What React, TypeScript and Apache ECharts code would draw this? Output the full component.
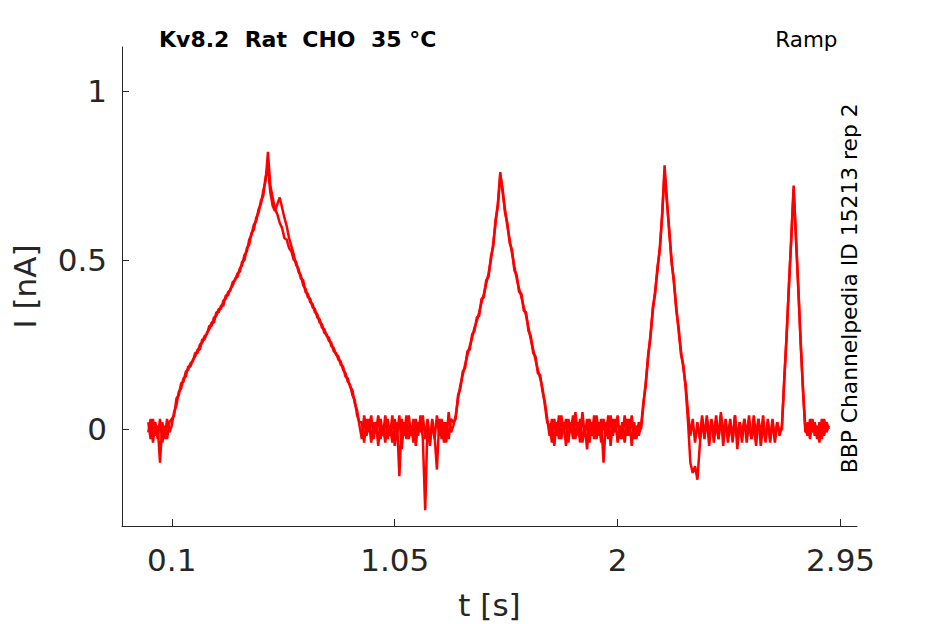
import React, { useEffect, useRef } from "react";
import * as echarts from "echarts";

// sampling interval of the recorded traces (s)
const DT = 0.01;
// start time (s) of each segment of a trace
const SEGMENT_STARTS = [0.0, 0.1, 0.91, 1.3, 1.71, 2.1, 2.31, 2.7, 2.81];

// ---- sweep A (I in nA) ----
const A_BASE_1 = [0.02, -0.03, 0.03, -0.02, 0.01, -0.1, 0.02, -0.03, 0.03, -0.01];
const A_RAMP_1 = [
  0.01, 0.05, 0.07, 0.11, 0.12, 0.15, 0.155, 0.185, 0.185, 0.205,
  0.215, 0.235, 0.235, 0.265, 0.265, 0.285, 0.295, 0.315, 0.315, 0.345,
  0.345, 0.365, 0.365, 0.395, 0.395, 0.415, 0.425, 0.445, 0.45, 0.475,
  0.485, 0.515, 0.525, 0.56, 0.575, 0.605, 0.615, 0.65, 0.665, 0.705,
  0.735, 0.82, 0.72, 0.685, 0.65, 0.635, 0.61, 0.595, 0.565, 0.56,
  0.535, 0.525, 0.5, 0.495, 0.465, 0.455, 0.425, 0.415, 0.39, 0.385,
  0.36, 0.355, 0.33, 0.325, 0.3, 0.295, 0.275, 0.27, 0.245, 0.24,
  0.22, 0.215, 0.19, 0.185, 0.155, 0.15, 0.125, 0.115, 0.075, 0.055,
  0.01,
];
const A_BASE_2 = [
  -0.03, 0.04, -0.02, 0.03, -0.04, 0.02, -0.01, 0.04, -0.03, 0.01,
  -0.04, 0.03, -0.02, 0.04, -0.05, 0.02, -0.14, 0.03, -0.02, 0.04,
  -0.03, 0.01, -0.04, 0.03, -0.02, 0.04, -0.03, -0.24, 0.02, -0.04,
  0.03, -0.02, -0.12, 0.03, -0.03, 0.02, -0.04, 0.05, -0.01,
];
const A_RAMP_2 = [
  0.01, 0.04, 0.09, 0.13, 0.16, 0.19, 0.22, 0.245, 0.27, 0.3,
  0.32, 0.345, 0.375, 0.4, 0.43, 0.46, 0.5, 0.55, 0.61, 0.67,
  0.76,
  0.7, 0.65, 0.6, 0.56, 0.52, 0.48, 0.445, 0.415, 0.39, 0.36,
  0.335, 0.3, 0.265, 0.235, 0.205, 0.175, 0.15, 0.12, 0.07, 0.02,
];
const A_BASE_3 = [
  0.01, -0.04, 0.03, -0.02, 0.04, -0.03, 0.02, -0.05, 0.03, -0.01,
  0.04, -0.03, 0.02, -0.04, 0.05, -0.02, 0.03, -0.04, 0.02, -0.03,
  0.04, -0.02, 0.03, -0.1, 0.02, -0.03, 0.04, -0.02, 0.03, -0.04,
  0.01, -0.03, 0.04, -0.02, 0.03, -0.05, 0.02, -0.03, 0.02,
];
const A_RAMP_3 = [
  0.0, 0.07, 0.14, 0.21, 0.28, 0.35, 0.41, 0.47, 0.54, 0.63,
  0.78, 0.68, 0.58, 0.5, 0.43, 0.36, 0.29, 0.23, 0.18, 0.13, 0.05,
];
const A_BASE_4 = [
  -0.02, 0.03, -0.04, 0.02, -0.03, 0.04, -0.02, 0.03, -0.05, 0.02,
  -0.01, 0.04, -0.03, 0.05, -0.02, 0.03, -0.04, 0.02, -0.03, 0.04,
  -0.06, 0.02, -0.02, 0.03, -0.04, 0.02, -0.03, 0.04, -0.02, 0.03,
  -0.05, 0.01, -0.03, 0.03, -0.04, 0.02, -0.03, 0.02, -0.02,
];
const A_RAMP_4 = [0.01, 0.14, 0.28, 0.42, 0.57, 0.71, 0.57, 0.41, 0.26, 0.11, -0.01];
const A_BASE_5 = [0.02, -0.03, 0.03, -0.02, 0.01, -0.04, 0.03, -0.02, 0.02, 0.0];

// ---- sweep B (I in nA) ----
const B_BASE_1 = [-0.01, 0.03, -0.04, 0.02, -0.03, 0.03, -0.04, 0.01, -0.03, 0.02];
const B_RAMP_1 = [
  0.03, 0.04, 0.09, 0.1, 0.135, 0.14, 0.17, 0.175, 0.195, 0.2,
  0.225, 0.225, 0.25, 0.255, 0.275, 0.28, 0.305, 0.305, 0.33, 0.335,
  0.355, 0.355, 0.38, 0.385, 0.405, 0.41, 0.435, 0.44, 0.46, 0.465,
  0.495, 0.5, 0.535, 0.545, 0.58, 0.59, 0.625, 0.64, 0.675, 0.69,
  0.745, 0.77, 0.7, 0.66, 0.645, 0.665, 0.685, 0.655, 0.625, 0.6,
  0.565, 0.54, 0.515, 0.485, 0.475, 0.445, 0.44, 0.405, 0.4, 0.375,
  0.37, 0.345, 0.34, 0.315, 0.31, 0.285, 0.28, 0.26, 0.255, 0.23,
  0.225, 0.205, 0.2, 0.175, 0.165, 0.14, 0.13, 0.1, 0.085, 0.04,
  0.02,
];
const B_BASE_2 = [
  0.02, -0.04, 0.03, -0.01, 0.04, -0.03, 0.02, -0.05, 0.03, -0.02,
  0.04, -0.03, 0.01, -0.04, 0.03, -0.02, 0.04, -0.06, 0.02, -0.03,
  0.04, -0.02, 0.03, -0.05, 0.02, -0.01, 0.04, -0.03, 0.03, -0.05,
  0.02, -0.03, 0.04, -0.02, 0.03, -0.04, 0.02, -0.03, 0.03,
];
const B_RAMP_2 = [
  0.02, 0.03, 0.1, 0.12, 0.17, 0.18, 0.23, 0.235, 0.28, 0.29,
  0.33, 0.335, 0.385, 0.39, 0.44, 0.45, 0.51, 0.54, 0.62, 0.66,
  0.75,
  0.71, 0.64, 0.61, 0.55, 0.53, 0.47, 0.455, 0.405, 0.4, 0.35,
  0.345, 0.29, 0.275, 0.225, 0.215, 0.165, 0.16, 0.11, 0.08, 0.03,
];
const B_BASE_3 = [
  -0.02, 0.03, -0.05, 0.02, -0.03, 0.04, -0.01, 0.03, -0.04, 0.02,
  -0.03, 0.05, -0.02, 0.03, -0.04, 0.01, -0.06, 0.03, -0.02, 0.04,
  -0.03, 0.02, -0.04, 0.03, -0.02, 0.04, -0.05, 0.03, -0.01, 0.04,
  -0.03, 0.02, -0.04, 0.03, -0.02, 0.04, -0.03, 0.01, -0.02,
];
const B_RAMP_3 = [
  0.01, 0.08, 0.13, 0.22, 0.27, 0.36, 0.4, 0.48, 0.53, 0.64,
  0.76, 0.67, 0.59, 0.49, 0.44, 0.35, 0.3, 0.22, 0.19, 0.12, 0.02,
];
const B_BASE_4 = [
  -0.1, -0.13, -0.11, -0.15, -0.05,
  0.03, -0.03, 0.04, -0.02, 0.03, -0.04, 0.02, -0.03, 0.04, -0.05,
  0.02, -0.02, 0.03, -0.04, 0.04, -0.03, 0.02, -0.04, 0.03, -0.02,
  0.04, -0.03, 0.01, -0.05, 0.03, -0.02, 0.04, -0.04, 0.02, -0.03,
  0.03, -0.04, 0.02, -0.01,
];
const B_RAMP_4 = [0.0, 0.15, 0.27, 0.43, 0.56, 0.72, 0.56, 0.42, 0.25, 0.12, 0.0];
const B_BASE_5 = [-0.02, 0.03, -0.01, 0.02, -0.03, 0.02, -0.03, 0.03, -0.01, 0.01];

const SWEEP_A = [A_BASE_1, A_RAMP_1, A_BASE_2, A_RAMP_2, A_BASE_3, A_RAMP_3, A_BASE_4, A_RAMP_4, A_BASE_5];
const SWEEP_B = [B_BASE_1, B_RAMP_1, B_BASE_2, B_RAMP_2, B_BASE_3, B_RAMP_3, B_BASE_4, B_RAMP_4, B_BASE_5];

const X_TICKS = [0.1, 1.05, 2, 2.95];
const X_TICK_LABELS = ["0.1", "1.05", "2", "2.95"];
const Y_TICKS = [0, 0.5, 1];
const Y_TICK_LABELS = ["0", "0.5", "1"];
const X_RANGE = [-0.112, 3.02];
const Y_RANGE = [-0.287, 1.13];

const TITLE = "Kv8.2  Rat  CHO  35 °C";
const PROTOCOL = "Ramp";
const SOURCE = "BBP Channelpedia ID 15213 rep 2";
const X_NAME = "t [s]";
const Y_NAME = "I [nA]";

const AXIS_COLOR = "#262626";
const FONT = "DejaVu Sans";

function toPoints(segments: number[][]): number[][] {
  const pts: number[][] = [];
  segments.forEach((vals, k) => {
    vals.forEach((v, i) => {
      pts.push([Math.round((SEGMENT_STARTS[k] + i * DT) * 1000) / 1000, v]);
    });
  });
  return pts;
}

function lookup(ticks: number[], labels: string[], v: number) {
  const i = ticks.findIndex((t) => Math.abs(t - v) < 1e-9);
  return i >= 0 ? labels[i] : "";
}

export default function App() {
  const ref = useRef<HTMLDivElement>(null);
  useEffect(() => {
    if (!ref.current) return;
    const chart = echarts.init(ref.current, null, { renderer: "svg" });
    const lineStyle = { color: "#ff0000", width: 2.5 };
    chart.setOption({
      animation: false,
      backgroundColor: "#ffffff",
      grid: { left: 122, right: 88, top: 47, bottom: 98, outerBoundsMode: "none" },
      xAxis: {
        type: "value",
        min: X_RANGE[0],
        max: X_RANGE[1],
        name: X_NAME,
        nameLocation: "middle",
        nameGap: 63,
        nameTextStyle: { fontSize: 31, color: AXIS_COLOR, fontFamily: FONT },
        axisLine: { onZero: false, lineStyle: { color: AXIS_COLOR, width: 1 } },
        axisTick: { inside: true, length: 7, customValues: X_TICKS, lineStyle: { color: AXIS_COLOR } },
        axisLabel: {
          customValues: X_TICKS,
          margin: 18,
          fontSize: 31,
          color: AXIS_COLOR,
          fontFamily: FONT,
          formatter: (v: number) => lookup(X_TICKS, X_TICK_LABELS, v),
        },
        splitLine: { show: false },
      },
      yAxis: {
        type: "value",
        min: Y_RANGE[0],
        max: Y_RANGE[1],
        name: Y_NAME,
        nameLocation: "middle",
        nameGap: 82,
        nameRotate: 90,
        nameTextStyle: { fontSize: 31, color: AXIS_COLOR, fontFamily: FONT },
        axisLine: { show: true, onZero: false, lineStyle: { color: AXIS_COLOR, width: 1 } },
        axisTick: { show: true, inside: true, length: 7, customValues: Y_TICKS, lineStyle: { color: AXIS_COLOR } },
        axisLabel: {
          customValues: Y_TICKS,
          margin: 15,
          fontSize: 31,
          color: AXIS_COLOR,
          fontFamily: FONT,
          formatter: (v: number) => lookup(Y_TICKS, Y_TICK_LABELS, v),
        },
        splitLine: { show: false },
      },
      series: [
        { type: "line", data: toPoints(SWEEP_B), showSymbol: false, lineStyle, silent: true },
        { type: "line", data: toPoints(SWEEP_A), showSymbol: false, lineStyle, silent: true },
      ],
      graphic: [
        {
          type: "text",
          x: 159,
          y: 39.3,
          style: {
            text: TITLE,
            fill: "#000000",
            font: `bold 22px '${FONT}'`,
            textAlign: "left",
            verticalAlign: "middle",
            textVerticalAlign: "middle",
          },
        },
        {
          type: "text",
          x: 837.5,
          y: 39.3,
          style: {
            text: PROTOCOL,
            fill: "#000000",
            font: `21.5px '${FONT}'`,
            textAlign: "right",
            verticalAlign: "middle",
            textVerticalAlign: "middle",
          },
        },
        {
          type: "text",
          x: 849.6,
          y: 288.3,
          rotation: Math.PI / 2,
          style: {
            text: SOURCE,
            fill: "#000000",
            font: `21.8px '${FONT}'`,
            textAlign: "center",
            verticalAlign: "middle",
            textVerticalAlign: "middle",
          },
        },
      ],
    });
    return () => chart.dispose();
  }, []);
  return (
    <div
      ref={ref}
      style={{ position: "fixed", left: 0, top: 0, width: 945, height: 624, background: "#ffffff" }}
    />
  );
}
